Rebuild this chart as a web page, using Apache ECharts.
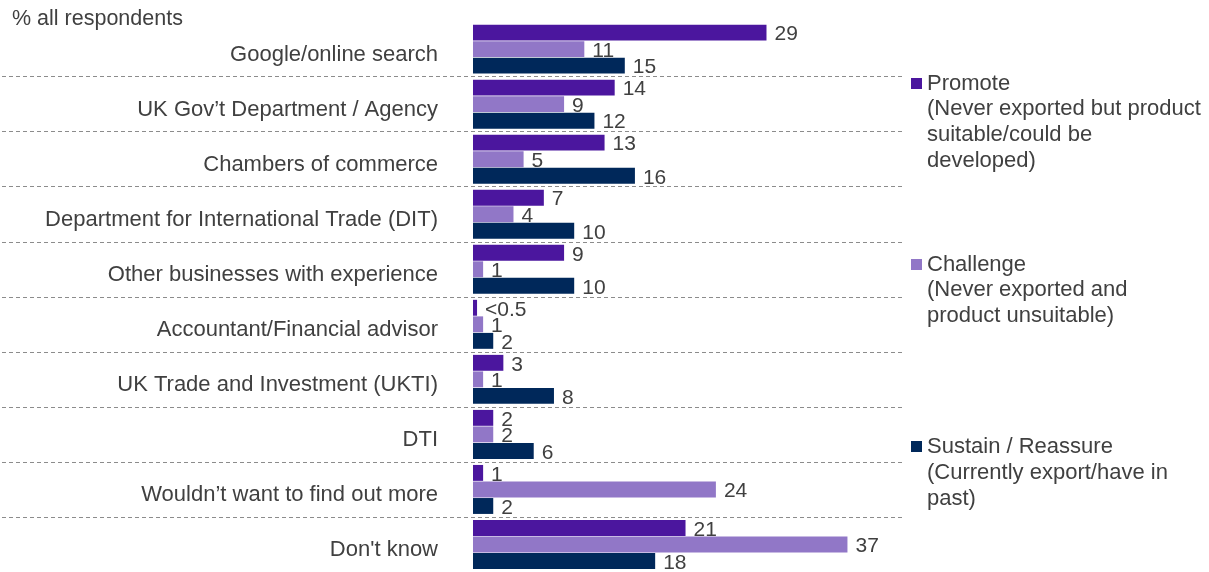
<!DOCTYPE html>
<html><head><meta charset="utf-8">
<script src="https://cdn.jsdelivr.net/npm/echarts@6/dist/echarts.min.js"></script>
<style>html,body{margin:0;padding:0;background:#fff}#c{width:1209px;height:572px}</style>
</head><body><div id="c"></div>
<script>
const categories = ["Google/online search","UK Gov\u2019t Department / Agency","Chambers of commerce","Department for International Trade (DIT)","Other businesses with experience","Accountant/Financial advisor","UK Trade and Investment (UKTI)","DTI","Wouldn\u2019t want to find out more","Don't know"];
const seriesNames = ["Promote","Challenge","Sustain / Reassure"];
const seriesNotes = ["(Never exported but product\nsuitable/could be\ndeveloped)","(Never exported and\nproduct unsuitable)","(Currently export/have in\npast)"];
const promote = [29,14,13,7,9,0.4,3,2,1,21];
const promoteLabels = ["29","14","13","7","9","<0.5","3","2","1","21"];
const challenge = [11,9,5,4,1,1,1,2,24,37];
const sustain = [15,12,16,10,10,2,8,6,2,18];
const colors = ["#4B169E","#9177C7","#00285A"];
const legendTops = [70.5,251.5,433.5];
const noteTops = [96,277,460];

const txt = "#404040";
const font = "Liberation Sans, Arial, sans-serif";
const values = [promote, challenge, sustain];
const labelSets = [promoteLabels, challenge.map(String), sustain.map(String)];

const chart = echarts.init(document.getElementById('c'), null, {renderer:'canvas'});
const option = {
  animation:false,
  textStyle:{fontFamily:font},
  title: [{text:"% all respondents", left:12, top:8, padding:0,
           textStyle:{fontSize:21.5, fontWeight:'normal', color:txt, fontFamily:font}}]
    .concat(seriesNotes.map((n,i)=>({text:n, left:927, top:noteTops[i], padding:0,
           textStyle:{fontSize:22, fontWeight:'normal', color:txt, lineHeight:26, fontFamily:font}}))),
  legend: seriesNames.map((n,i)=>({
    data:[n], orient:'vertical', left:911, top:legendTops[i], padding:0,
    itemWidth:11, itemHeight:11, icon:'rect', selectedMode:false,
    textStyle:{fontSize:22, color:txt, lineHeight:26, fontFamily:font}
  })),
  grid:{left:2, top:21.6, width:900, height:557},
  xAxis:{type:'value', min:-46.54, max:42.39, show:false},
  yAxis:{type:'category', data:categories, inverse:true,
    axisLine:{show:false}, axisTick:{show:false},
    axisLabel:{margin:-436, align:'right', verticalAlign:'top', lineHeight:11, fontSize:22, color:txt, fontFamily:font},
    splitLine:{show:true, showMinLine:false, lineStyle:{color:'#8c8c8c', type:[4,3], width:1}}
  },
  series: seriesNames.map((n,i)=>({
    name:n, type:'bar', data:values[i], barGap:'4%', barCategoryGap:'11%',
    itemStyle:{color:colors[i]},
    label:{show:true, position:'right', distance:8, offset:[0,2], fontSize:21, color:txt, fontFamily:font,
      formatter:(p)=>labelSets[i][p.dataIndex]}
  }))
};
chart.setOption(option);
</script></body></html>
